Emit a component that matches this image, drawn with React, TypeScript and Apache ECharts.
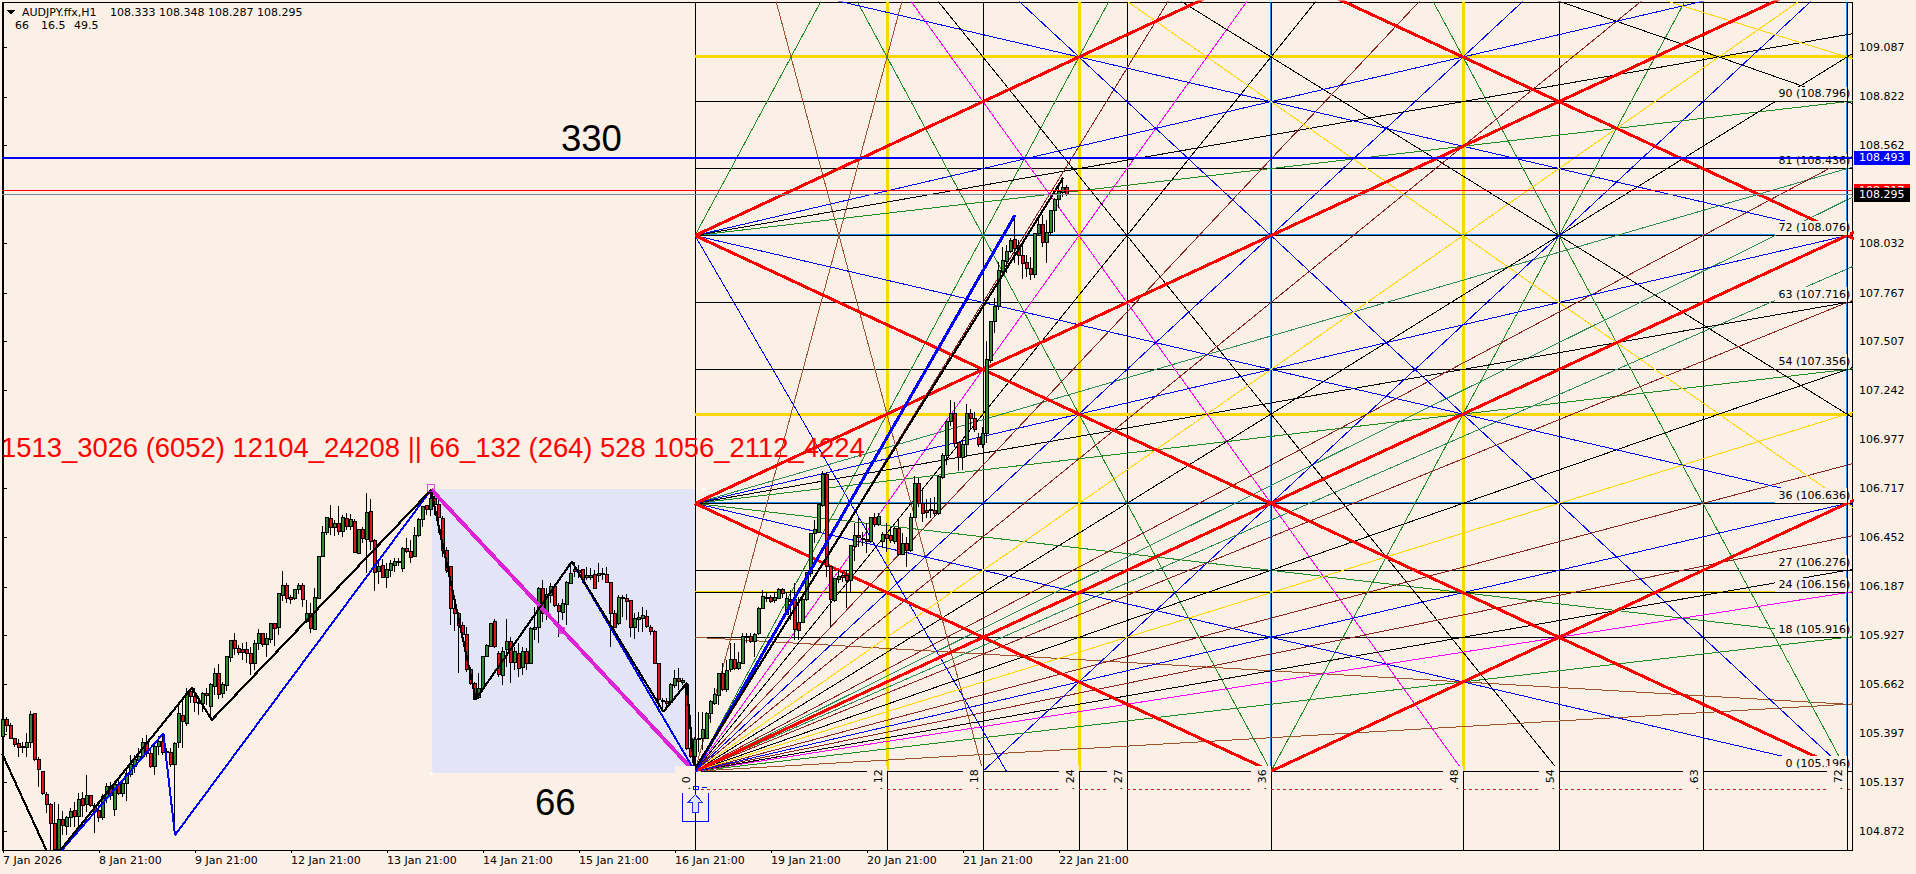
import React, { useEffect, useRef } from "react";
import * as echarts from "echarts";

// ---------- candles: [open, close, low, high], one row per H1 bar ----------
const candlesA = [
[105.382,105.472,105.364,105.493],[105.475,105.443,105.409,105.490],[105.443,105.373,105.368,105.454],[105.371,105.337,105.328,105.373],
[105.346,105.325,105.271,105.368],[105.328,105.323,105.293,105.355],[105.325,105.350,105.275,105.400],[105.350,105.500,105.319,105.522],
[105.504,105.260,105.253,105.508],[105.260,105.203,105.110,105.275],[105.196,105.074,105.069,105.199],[105.070,105.018,104.970,105.085],
[105.017,104.916,104.773,105.024],[104.916,104.773,104.772,105.033],[104.773,104.934,104.772,105.020],[104.934,104.902,104.853,104.984],
[104.898,104.948,104.853,104.956],[104.948,104.977,104.898,104.997],[104.984,104.952,104.898,105.033],[104.952,105.042,104.880,105.077],
[105.049,105.009,104.952,105.085],[105.015,105.063,104.979,105.176],[105.063,105.009,105.006,105.063],[105.009,104.979,104.866,105.024],
[104.984,104.948,104.925,105.024],[104.948,105.060,104.934,105.074],[105.056,105.113,105.024,105.135],[105.113,105.067,105.042,105.140],
[104.991,105.122,104.956,105.131],[105.124,105.074,105.067,105.149],[105.074,105.128,105.060,105.149],[105.128,105.185,105.038,105.203],
[105.178,105.230,105.167,105.284],[105.224,105.257,105.185,105.284],[105.253,105.275,105.239,105.319],[105.275,105.350,105.266,105.373],
[105.350,105.293,105.275,105.391],[105.293,105.221,105.212,105.319],[105.221,105.328,105.176,105.355],[105.328,105.355,105.284,105.386],
[105.355,105.296,105.284,105.400],[105.301,105.296,105.284,105.319],[105.296,105.232,105.221,105.319],[105.232,105.346,104.853,105.355],
[105.350,105.508,105.319,105.561],[105.497,105.463,105.319,105.597],[105.454,105.615,105.439,105.642],[105.624,105.597,105.561,105.642],
];
const candlesB = [
[105.597,105.565,105.517,105.642],[105.567,105.561,105.499,105.579],[105.561,105.615,105.517,105.624],[105.615,105.601,105.552,105.642],
[105.543,105.660,105.481,105.669],[105.651,105.723,105.606,105.749],[105.723,105.611,105.583,105.773],[105.615,105.660,105.588,105.678],
[105.655,105.812,105.629,105.812],[105.809,105.898,105.785,105.902],[105.898,105.855,105.821,105.938],[105.855,105.834,105.821,105.875],
[105.852,105.834,105.794,105.884],[105.852,105.827,105.776,105.893],[105.830,105.776,105.714,105.866],[105.776,105.884,105.741,105.902],
[105.880,105.938,105.848,105.959],[105.938,105.875,105.866,105.941],[105.875,105.911,105.812,105.938],[105.905,105.991,105.884,105.991],
[105.991,105.963,105.870,105.991],[105.970,106.149,105.929,106.156],[106.142,106.196,106.113,106.273],[106.192,106.124,106.099,106.206],
[106.128,106.121,106.095,106.144],[106.124,106.171,106.117,106.174],[106.171,106.197,106.149,106.206],[106.197,106.121,106.081,106.206],
[106.002,106.042,105.995,106.117],[106.042,105.963,105.941,106.099],[105.959,106.131,105.956,106.180],[106.126,106.350,106.121,106.353],
[106.350,106.479,106.346,106.515],[106.479,106.558,106.466,106.565],[106.556,106.508,106.466,106.628],[106.508,106.529,106.461,106.547],
[106.529,106.484,106.466,106.622],[106.484,106.561,106.457,106.574],[106.554,106.511,106.493,106.583],[106.511,106.547,106.493,106.579],
[106.540,106.371,106.368,106.551],[106.368,106.493,106.364,106.497],[106.497,106.447,106.421,106.508],[106.443,106.586,106.264,106.690],
[106.590,106.430,106.386,106.658],[106.439,106.264,106.167,106.443],[106.269,106.296,106.203,106.335],[106.303,106.239,106.233,106.335],
];
const candlesC = [
[106.239,106.278,106.180,106.314],[106.275,106.314,106.242,106.332],[106.300,106.323,106.269,106.341],[106.320,106.325,106.300,106.341],
[106.287,106.395,106.269,106.400],[106.395,106.375,106.368,106.448],[106.377,106.346,106.314,106.439],[106.350,106.464,106.346,106.508],
[106.461,106.551,106.457,106.556],[106.547,106.619,106.508,106.622],[106.622,106.601,106.574,106.628],[106.604,106.663,106.568,106.712],
[106.663,106.628,106.574,106.699],[106.628,106.561,106.475,106.676],[106.556,106.382,106.350,106.568],[106.382,106.275,106.260,106.400],
[106.296,106.072,105.982,106.300],[106.072,106.045,105.952,106.135],[106.045,105.982,105.723,106.054],[105.982,105.929,105.920,106.000],
[105.929,105.741,105.732,105.973],[105.741,105.669,105.660,105.758],[105.669,105.583,105.579,105.678],[105.594,105.642,105.583,105.723],
[105.642,105.812,105.633,105.816],[105.812,105.870,105.809,105.880],[105.866,105.988,105.862,105.991],[105.999,105.866,105.857,106.016],
[105.830,105.714,105.705,105.844],[105.708,105.839,105.660,105.866],[105.848,105.893,105.758,106.013],[105.893,105.780,105.672,105.920],
[105.780,105.839,105.741,105.866],[105.830,105.749,105.701,105.884],[105.753,105.839,105.714,105.866],[105.839,105.776,105.741,105.857],
[105.773,105.965,105.773,105.973],[105.959,105.970,105.902,106.081],[105.970,106.180,105.887,106.189],[106.180,106.042,106.000,106.224],
[106.045,106.144,106.009,106.180],[106.139,106.189,106.099,106.206],[106.189,106.085,106.081,106.197],[106.085,106.054,105.920,106.099],
[106.049,106.095,106.009,106.120],[106.090,106.210,105.982,106.221],[106.206,106.260,106.203,106.323],[106.278,106.269,106.242,106.323],
];
const candlesD = [
[106.266,106.275,106.233,106.305],[106.278,106.228,106.206,106.282],[106.240,106.246,106.224,106.296],[106.239,106.246,106.224,106.287],
[106.251,106.180,106.174,106.278],[106.246,106.260,106.215,106.314],[106.260,106.255,106.224,106.287],[106.251,106.210,106.206,106.296],
[106.210,106.045,105.866,106.215],[106.045,105.970,105.965,106.063],[105.988,106.131,105.982,106.144],[106.131,106.126,106.027,106.144],
[106.126,106.108,106.009,106.149],[106.113,105.970,105.920,106.117],[105.970,106.018,105.905,106.045],[106.013,106.024,105.947,106.054],
[106.018,106.031,105.947,106.081],[106.027,105.973,105.965,106.063],[105.970,105.947,105.929,105.982],[105.947,105.776,105.773,105.956],
[105.776,105.579,105.517,105.780],[105.570,105.575,105.517,105.588],[105.570,105.561,105.525,105.588],[105.565,105.660,105.558,105.669],
[105.655,105.696,105.642,105.741],[105.696,105.678,105.633,105.749],[105.672,105.683,105.660,105.696],[105.660,105.319,105.310,105.678],
[105.319,105.275,105.266,105.373],[105.275,105.364,105.199,105.382],[105.364,105.373,105.301,105.517],[105.373,105.418,105.310,105.517],
[105.373,105.508,105.373,105.517],[105.508,105.570,105.457,105.579],[105.561,105.606,105.552,105.642],[105.601,105.723,105.552,105.726],
[105.723,105.633,105.629,105.776],[105.633,105.737,105.624,105.794],[105.741,105.798,105.732,105.884],[105.798,105.749,105.741,105.884],
[105.749,105.780,105.741,105.839],[105.776,105.920,105.773,105.941],[105.914,105.920,105.887,105.941],[105.920,105.893,105.887,105.941],
[105.893,105.929,105.812,105.941],[105.934,106.072,105.929,106.081],[106.072,106.135,106.067,106.171],[106.126,106.131,106.104,106.156],
];
const candlesE = [
[106.131,106.108,106.099,106.144],[106.113,106.131,106.099,106.153],[106.126,106.171,106.121,106.180],[106.171,106.153,106.126,106.180],
[106.036,106.126,106.036,106.162],[106.120,106.108,106.009,106.171],[106.117,105.959,105.902,106.206],[105.995,105.955,105.902,106.135],
[105.995,106.117,105.991,106.126],[106.117,106.266,106.113,106.269],[106.260,106.475,106.242,106.475],[106.472,106.493,106.421,106.547],
[106.479,106.628,106.475,106.628],[106.622,106.789,106.619,106.812],[106.789,106.296,106.242,106.807],[106.296,106.117,105.973,106.300],
[106.113,106.233,106.108,106.233],[106.228,106.242,106.210,106.278],[106.246,106.239,106.215,106.269],[106.246,106.221,106.072,106.278],
[106.221,106.407,106.162,106.411],[106.403,106.461,106.328,106.533],[106.464,106.454,106.403,106.556],[106.443,106.448,106.407,106.484],
[106.443,106.430,106.371,106.529],[106.430,106.561,106.425,106.565],[106.561,106.525,106.511,106.583],[106.525,106.565,106.515,106.583],
[106.430,106.466,106.395,106.484],[106.466,106.448,106.377,106.529],[106.461,106.436,106.421,106.511],[106.430,106.502,106.418,106.511],
[106.502,106.359,106.353,106.556],[106.359,106.421,106.359,106.475],[106.421,106.382,106.292,106.457],[106.382,106.561,106.377,106.583],
[106.561,106.744,106.556,106.783],[106.744,106.633,106.619,106.771],[106.633,106.583,106.538,106.712],[106.597,106.586,106.556,106.658],
[106.597,106.604,106.556,106.663],[106.597,106.579,106.565,106.672],[106.579,106.783,106.574,106.789],[106.776,106.896,106.765,106.905],
[106.896,107.076,106.843,107.085],[107.076,107.117,107.052,107.192],[107.117,106.959,106.941,107.183],[106.963,106.884,106.812,106.968],
];
const candlesF = [
[106.884,106.950,106.816,106.977],[106.950,107.117,106.887,107.170],[107.117,107.093,107.031,107.142],[107.093,107.031,107.022,107.129],
[106.991,106.950,106.941,107.013],[106.955,107.009,106.932,107.049],[107.012,107.407,106.959,107.511],[107.403,107.613,107.389,107.613],
[107.613,107.697,107.550,107.738],[107.693,107.890,107.675,107.935],[107.882,107.944,107.873,108.016],[107.935,107.989,107.873,108.025],
[107.989,108.052,107.980,108.061],[108.055,108.007,107.926,108.186],[108.020,107.971,107.917,108.052],[107.971,107.923,107.840,108.025],
[107.932,107.899,107.855,107.971],[107.899,107.864,107.837,107.962],[107.864,108.088,107.846,108.091],[108.088,108.138,108.079,108.177],
[108.138,108.037,108.016,108.186],[108.037,108.093,107.926,108.159],[108.091,108.209,108.079,108.213],[108.209,108.270,108.097,108.276],
[108.270,108.312,108.222,108.347],[108.306,108.335,108.285,108.389],[108.333,108.295,108.287,108.348],
];
const candles = [...candlesA, ...candlesB, ...candlesC, ...candlesD, ...candlesE, ...candlesF];

// ---------- axes ----------
const timeTickBars = [0, 24, 48, 72, 96, 120, 144, 168, 192, 216, 240, 264];
const timeTickLabels = ["7 Jan 2026", "8 Jan 21:00", "9 Jan 21:00", "12 Jan 21:00", "13 Jan 21:00", "14 Jan 21:00", "15 Jan 21:00", "16 Jan 21:00", "19 Jan 21:00", "20 Jan 21:00", "21 Jan 21:00", "22 Jan 21:00"];
const priceTicks = [109.087, 108.822, 108.562, 108.032, 107.767, 107.507, 107.242, 106.977, 106.717, 106.452, 106.187, 105.927, 105.662, 105.397, 105.137, 104.872];

// ---------- Gann grid, in grid units: one unit = 4 bars, 0.04 price ----------
const gannOriginBar = 173;
const gannOriginPrice = 105.196;
const barsPerUnit = 4;
const pricePerUnit = 0.04;
const levelLabels = [0, 18, 24, 27, 36, 54, 63, 72, 81, 90];
const plainLevels = [0, 18, 24, 27, 36, 54, 63, 72, 81, 90];
const goldThinLevels = [24];
const goldThickLevels = [48, 96];
const dodgerLevels = [36, 72];
const plainColumns = [0, 12, 18, 24, 27, 36, 48, 54, 63, 72];
const goldColumns = [12, 24, 48];
const dodgerColumns = [36, 72];
const columnLabels = [0, 12, 18, 24, 27, 36, 48, 54, 63, 72];

// every fan line: [level where it leaves column 0, level change per column]
const siennaRays = [[0, 1 / 8], [18, -1 / 8], [0, 8], [144, -8]];
const greenRays = [[0, 1 / 4], [36, 1 / 4], [36, -1 / 4], [72, 1 / 4], [0, 4], [72, 4], [144, -4], [288, -4], [-144, 4]];
const seaGreenRays = [[0, 15 / 16], [0, 16 / 15], [36, 5 / 8]];
const magentaRays = [[0, 1 / 3], [0, 3], [144, -3]];
const blackRays = [[0, 3 / 8], [0, 3 / 4], [0, 4 / 3], [0, 8 / 3], [36, 3 / 8], [72, 3 / 8], [144, -3 / 4], [144, -4 / 3], [144, -8 / 3]];
const darkRedRays = [[0, 7 / 16], [0, 4 / 7], [0, 7 / 8], [0, 8 / 7], [0, 7 / 4], [0, 16 / 7], [0, 7 / 2]];
const blueRays = [[0, 1 / 2], [36, 1 / 2], [72, 1 / 2], [36, -1 / 2], [72, -1 / 2], [108, -1 / 2], [0, 2], [-36, 2], [144, -2], [72, -3.7]];
const goldRays = [[0, 2 / 3], [0, 3 / 2], [144, -2 / 3], [144, -3 / 2]];
const redRays = [[0, 1], [36, 1], [72, 1], [-36, 1], [36, -1], [72, -1], [144, -1]];

// ---------- drawn wave lines: [bar, price] ----------
const blackZigzag = [[-0.25, 105.292], [12.1, 104.712], [47.2, 105.645], [52.2, 105.472], [107, 106.708], [118.2, 105.583], [142.2, 106.323], [165.1, 105.516], [170.9, 105.669], [172.8, 105.203], [265, 108.385]];
const blueZigzagLeft = [[12.6, 104.72], [40.1, 105.4], [43, 104.853], [107, 106.708]];
const blueZigzagMid = [[142.2, 106.323], [173, 105.194]];
const blueRally = [[173, 105.196], [253, 108.186]];
const magentaLeg = [[107, 106.712], [173, 105.19]];
const magentaHandleOpen = [[107, 106.719]];
const magentaHandleFilled = [[139.5, 105.955]];
const whiteHandles = [[107.2, 105.183], [175.2, 106.712], [174.2, 105.19]];
const boxBars = [107.2, 173.2];
const boxPrices = [106.712, 105.188];

// ---------- horizontal price lines ----------
const askLinePrice = 108.493;
const redLinePrice = 108.317;
const bidLinePrice = 108.295;
const dashedLinePrice = 105.099;
const priceTags = [108.317, 108.295, 108.493];
const priceTagLabels = ["108.317", "108.295", "108.493"];

const bigRedText = "1513_3026 (6052) 12104_24208 || 66_132 (264) 528 1056_2112_4224";
const headerSymbol = "AUDJPY.ffx,H1";
const headerQuotes = "108.333 108.348 108.287 108.295";
const headerIndicatorValues = ["66", "16.5", "49.5"];

const BG = "#FAF0E6";
const FONT = "DejaVu Sans";
const TOP_LEVEL = 104;
const LAST_COLUMN = 73;
const barOf = (u: number) => gannOriginBar + u * barsPerUnit;
const priceOf = (l: number) => gannOriginPrice + l * pricePerUnit;

function raySegment(base: number, slope: number) {
  let u0 = 0;
  let u1 = LAST_COLUMN;
  if (slope > 0) {
    u0 = Math.max(0, -base / slope);
    u1 = Math.min(LAST_COLUMN, (TOP_LEVEL - base) / slope);
  } else {
    u0 = Math.max(0, (TOP_LEVEL - base) / slope);
    u1 = Math.min(LAST_COLUMN, -base / slope);
  }
  return [[barOf(u0), priceOf(base + slope * u0)], [barOf(u1), priceOf(base + slope * u1)]];
}

function lineSeries(data: number[][], color: string, width: number, z: number, dash?: any) {
  return {
    type: "line", data, showSymbol: false, symbol: "none", silent: true, z, animation: false,
    lineStyle: { color, width, type: dash || "solid", cap: "butt" },
    emphasis: { disabled: true },
  };
}

function rayFamily(rays: number[][], color: string, width: number) {
  return rays.map(([b, s]) => lineSeries(raySegment(b, s), color, width, 3));
}

function buildOption() {
  const levelLine = (l: number, color: string, width: number, z: number) =>
    lineSeries([[barOf(0), priceOf(l)], [barOf(72.3), priceOf(l)]], color, width, z);
  const columnLine = (u: number, lv0: number, lv1: number, color: string, width: number, z: number) =>
    lineSeries([[barOf(u), lv0], [barOf(u), lv1]], color, width, z);
  const PMIN = 104.7724;
  const PMAX = 109.3316;

  const series: any[] = [
    // lavender box
    {
      type: "custom", z: 1, silent: true, clip: true, data: [[boxBars[0], boxPrices[0]]],
      renderItem: (_p: any, api: any) => {
        const a = api.coord([boxBars[0], boxPrices[0]]);
        const b = api.coord([boxBars[1], boxPrices[1]]);
        return { type: "rect", shape: { x: a[0], y: a[1], width: b[0] - a[0], height: b[1] - a[1] }, style: { fill: "#E3E5F7" } };
      },
    },
    ...plainColumns.map((u) => columnLine(u, PMIN, PMAX, "#000000", 1, 2)),
    ...dodgerColumns.map((u) => columnLine(u - 0.06, priceOf(0), PMAX, "#1E90FF", 1, 2)),
    ...goldColumns.map((u) => columnLine(u + 0.06, priceOf(0), PMAX, "#FFD700", 3, 2)),
    ...plainLevels.map((l) => levelLine(l, "#000000", 1, 2)),
    ...dodgerLevels.map((l) => levelLine(l + 0.14, "#1E90FF", 1, 2)),
    ...goldThinLevels.map((l) => levelLine(l + 0.14, "#FFD700", 1, 2)),
    ...goldThickLevels.map((l) => levelLine(l, "#FFD700", 3, 2)),
    ...rayFamily(siennaRays, "#A0522D", 1),
    ...rayFamily(greenRays, "#228B22", 1),
    ...rayFamily(seaGreenRays, "#2E8B57", 1),
    ...rayFamily(magentaRays, "#FF00FF", 1),
    ...rayFamily(blackRays, "#000000", 1),
    ...rayFamily(darkRedRays, "#8B2323", 1),
    ...rayFamily(blueRays, "#0000FF", 1),
    ...rayFamily(goldRays, "#FFD700", 1),
    ...rayFamily(redRays, "#FF0000", 3),
    lineSeries([[barOf(0), dashedLinePrice], [barOf(72.3), dashedLinePrice]], "#C02020", 1, 3, [3, 3]),
    // candles
    {
      type: "candlestick", z: 5, silent: true, barWidth: 3, clip: true,
      data: candles.map((r, i) => [i, r[0], r[1], r[2], r[3]]),
      itemStyle: { color: "#2E8B2E", color0: "#D81818", borderColor: "#000000", borderColor0: "#000000", borderColorDoji: "#000000", borderWidth: 1 },
    },
    lineSeries(magentaLeg, "#DD22D8", 4, 6),
    lineSeries(blueZigzagLeft, "#0000FF", 2, 6),
    lineSeries(blueZigzagMid, "#0000FF", 2, 6),
    lineSeries(blueRally, "#0000FF", 3, 6),
    lineSeries(blackZigzag, "#000000", 2.2, 7),
    {
      type: "scatter", z: 7, silent: true, symbol: "rect", symbolSize: 7, data: magentaHandleOpen,
      itemStyle: { color: "transparent", borderColor: "#DD22D8", borderWidth: 1.5 },
    },
    {
      type: "scatter", z: 7, silent: true, symbol: "rect", symbolSize: 7, data: magentaHandleFilled,
      itemStyle: { color: "#DD22D8" },
    },
    {
      type: "scatter", z: 7, silent: true, symbol: "rect", symbolSize: 3, data: whiteHandles,
      itemStyle: { color: "#FFFFFF" },
    },
    // level labels, each on a background patch
    {
      type: "custom", z: 8, silent: true, clip: false,
      data: levelLabels.map((l) => [barOf(72.2), priceOf(l)]),
      renderItem: (p: any, api: any) => {
        const l = levelLabels[p.dataIndex];
        const c = api.coord([barOf(72.2), priceOf(l)]);
        return {
          type: "group",
          children: [
            { type: "rect", shape: { x: c[0] - 75, y: c[1] - 15, width: 75, height: 14.5 }, style: { fill: BG } },
            { type: "text", x: c[0], y: c[1] - 8, style: { text: `${l} (${priceOf(l).toFixed(3)})`, align: "right", verticalAlign: "middle", fill: "#000", font: `11px "${FONT}"` } },
          ],
        };
      },
    },
    // column labels, rotated, on a background patch
    {
      type: "custom", z: 8, silent: true, clip: false,
      data: columnLabels.map((u) => [barOf(u), priceOf(0)]),
      renderItem: (p: any, api: any) => {
        const u = columnLabels[p.dataIndex];
        const c = api.coord([barOf(u), priceOf(0)]);
        return {
          type: "group",
          children: [
            { type: "rect", shape: { x: c[0] - 20, y: c[1] - 5, width: 20, height: 25 }, style: { fill: BG } },
            { type: "text", x: c[0] - 9, y: c[1] + 19, rotation: Math.PI / 2, style: { text: `. ${u}`, align: "left", verticalAlign: "middle", fill: "#000", font: `11px "${FONT}"` } },
          ],
        };
      },
    },
    columnLine(72.06, PMIN, PMAX, "#000000", 1, 9),
    lineSeries([[-0.25, askLinePrice], [462.25, askLinePrice]], "#0000FF", 2, 9),
    lineSeries([[-0.25, redLinePrice], [462.25, redLinePrice]], "#FF0000", 1, 9),
    lineSeries([[-0.25, bidLinePrice], [462.25, bidLinePrice]], "#778899", 1, 9),
    // price tags on the axis
    {
      type: "custom", z: 10, silent: true, clip: false,
      data: priceTags.map((v) => [462.25, v]),
      renderItem: (p: any, api: any) => {
        const v = priceTags[p.dataIndex];
        const c = api.coord([462.25, v]);
        const fill = ["#FF0000", "#000000", "#0000FF"][p.dataIndex];
        return {
          type: "group",
          children: [
            { type: "rect", shape: { x: c[0] + 2, y: c[1] - 7, width: 56, height: 14 }, style: { fill } },
            { type: "text", x: c[0] + 7, y: c[1], style: { text: priceTagLabels[p.dataIndex], align: "left", verticalAlign: "middle", fill: "#fff", font: `11px "${FONT}"` } },
          ],
        };
      },
    },
  ];

  return {
    animation: false,
    backgroundColor: BG,
    textStyle: { fontFamily: FONT },
    grid: { left: 2, top: 2, width: 1850, height: 848, show: true, borderColor: "#000", borderWidth: 1, backgroundColor: "transparent" },
    xAxis: {
      type: "value", min: -0.25, max: 462.25, splitLine: { show: false },
      axisLine: { show: true, lineStyle: { color: "#000" } },
      axisTick: { show: true, length: 3, lineStyle: { color: "#000" }, customValues: timeTickBars },
      axisLabel: {
        show: true, customValues: timeTickBars, align: "left", margin: 5, color: "#000", fontSize: 11, fontFamily: FONT,
        formatter: (v: number) => timeTickLabels[timeTickBars.indexOf(v)] || "",
      },
    },
    yAxis: {
      type: "value", position: "right", min: PMIN, max: PMAX, splitLine: { show: false },
      axisLine: { show: true, lineStyle: { color: "#000" } },
      axisTick: { show: true, length: 4, lineStyle: { color: "#000" }, customValues: priceTicks },
      axisLabel: {
        show: true, customValues: priceTicks, margin: 7, color: "#000", fontSize: 11, fontFamily: FONT,
        formatter: (v: number) => v.toFixed(3),
      },
    },
    graphic: [
      { type: "text", z: 50, x: 22, y: 7, style: { text: headerSymbol, fill: "#000", font: `11px "${FONT}"` } },
      { type: "text", z: 50, x: 110, y: 7, style: { text: headerQuotes, fill: "#000", font: `11px "${FONT}"` } },
      { type: "text", z: 50, x: 15, y: 20, style: { text: headerIndicatorValues[0], fill: "#000", font: `11px "${FONT}"` } },
      { type: "text", z: 50, x: 41, y: 20, style: { text: headerIndicatorValues[1], fill: "#000", font: `11px "${FONT}"` } },
      { type: "text", z: 50, x: 74, y: 20, style: { text: headerIndicatorValues[2], fill: "#000", font: `11px "${FONT}"` } },
      { type: "polygon", z: 50, shape: { points: [[7, 10], [15, 10], [11, 15]] }, style: { fill: "#000" } },
      { type: "text", z: 50, x: 561, y: 120, style: { text: "330", fill: "#000", font: `36.5px "Liberation Sans"` } },
      { type: "text", z: 50, x: 535, y: 784, style: { text: "66", fill: "#000", font: `36.5px "Liberation Sans"` } },
      { type: "text", z: 50, x: 1, y: 434, style: { text: bigRedText, fill: "#FF0000", font: `27.4px "Liberation Sans"` } },
      { type: "polyline", z: 50, shape: { points: [[682, 793], [682, 821], [708, 821], [708, 793]] }, style: { stroke: "#0000FF", fill: "none", lineWidth: 1 } },
      { type: "polygon", z: 50, shape: { points: [[695.3, 794.5], [702.7, 802.7], [698.7, 802.7], [698.7, 812], [692, 812], [692, 802.7], [688, 802.7]] }, style: { stroke: "#1E30FF", fill: "#E3E5F7", lineWidth: 1 } },
      { type: "rect", z: 50, shape: { x: 693, y: 786, width: 5, height: 3 }, style: { stroke: "#0000FF", fill: "none", lineWidth: 1 } },
      { type: "line", z: 50, shape: { x1: 702, y1: 787.5, x2: 707, y2: 787.5 }, style: { stroke: "#0000FF", lineWidth: 1 } },
    ],
    series,
  };
}

const crispStyle = "svg path{shape-rendering:crispEdges}";

export default function App() {
  const ref = useRef<HTMLDivElement>(null);
  useEffect(() => {
    const chart = echarts.init(ref.current!, undefined, { renderer: "svg" });
    chart.setOption(buildOption() as any);
    return () => chart.dispose();
  }, []);
  return (
    <>
      <style>{crispStyle}</style>
      <div ref={ref} style={{ position: "absolute", left: 0, top: 0, width: 1916, height: 874 }} />
    </>
  );
}
